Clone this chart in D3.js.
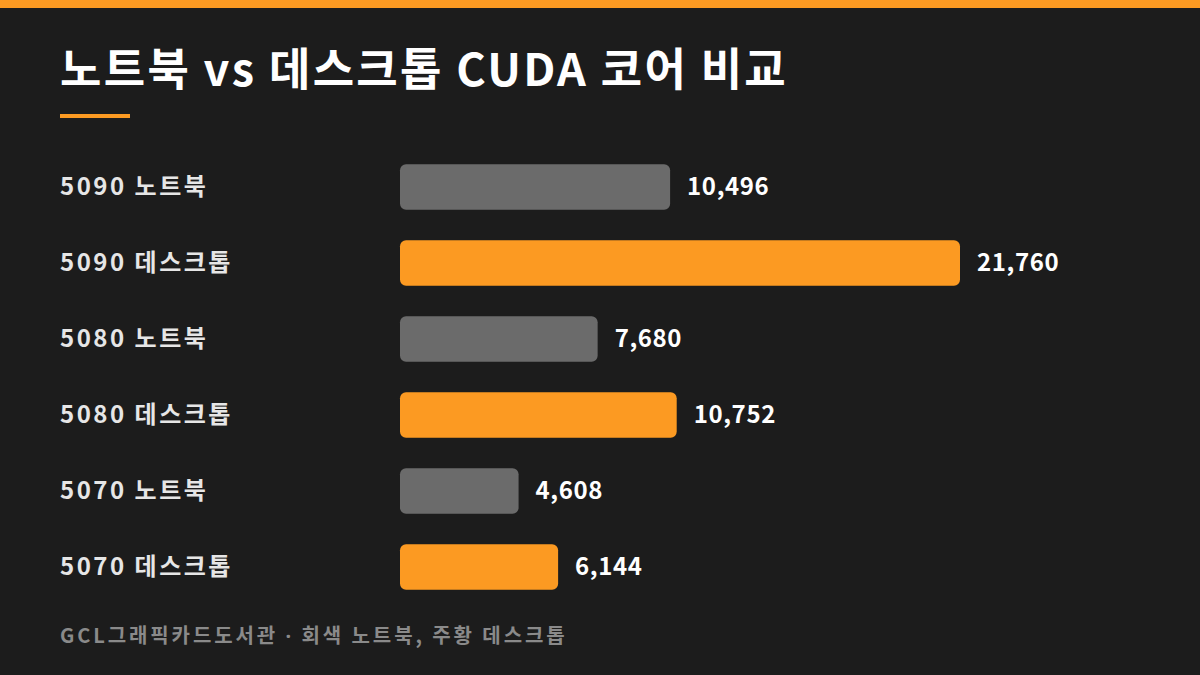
<!DOCTYPE html>
<html>
<head>
<meta charset="utf-8">
<script src="https://cdn.jsdelivr.net/npm/d3@7"></script>
<style>
  html, body { margin: 0; padding: 0; background: #1c1c1c; }
  svg { display: block; }
  text { font-family: "Noto Sans CJK KR", "Noto Sans", sans-serif; }
</style>
</head>
<body>
<svg id="chart"></svg>
<script>
const labels = ['5090 노트북', '5090 데스크톱', '5080 노트북', '5080 데스크톱', '5070 노트북', '5070 데스크톱'];
const cores = [10496, 21760, 7680, 10752, 4608, 6144];
const kinds = ['laptop', 'desktop', 'laptop', 'desktop', 'laptop', 'desktop'];

const width = 1200, height = 675;
const colors = { laptop: '#6b6b6b', desktop: '#fc9a22' };

const svg = d3.select('#chart')
  .attr('width', width)
  .attr('height', height);

svg.append('rect')
  .attr('width', width).attr('height', height)
  .attr('fill', '#1c1c1c');

// top accent
svg.append('rect')
  .attr('width', width).attr('height', 8)
  .attr('fill', '#fc9a22');

svg.append('text')
  .attr('x', 60).attr('y', 86)
  .attr('fill', '#ffffff')
  .attr('font-size', 45)
  .attr('font-weight', 700)
  .attr('letter-spacing', 2.3)
  .text('노트북 vs 데스크톱 CUDA 코어 비교');

svg.append('rect')
  .attr('x', 60).attr('y', 114)
  .attr('width', 70).attr('height', 4)
  .attr('fill', '#fc9a22');

const data = labels.map((d, i) => ({ label: d, value: cores[i], kind: kinds[i] }));

const x = d3.scaleLinear()
  .domain([0, d3.max(cores)])
  .range([400, 960]);

const y = d3.scaleBand()
  .domain(labels)
  .range([149, 605])
  .paddingInner(0.4)
  .paddingOuter(0.2);

const rows = svg.selectAll('g.row')
  .data(data)
  .enter().append('g')
  .attr('class', 'row');

rows.append('text')
  .attr('x', 60)
  .attr('y', d => y(d.label) + y.bandwidth() / 2)
  .attr('dy', '0.35em')
  .attr('fill', '#e6e6e6')
  .attr('font-size', 24)
  .attr('font-weight', 700)
  .attr('letter-spacing', 2.5)
  .text(d => d.label);

rows.append('rect')
  .attr('x', x(0))
  .attr('y', d => y(d.label))
  .attr('width', d => x(d.value) - x(0))
  .attr('height', y.bandwidth())
  .attr('rx', 6)
  .attr('fill', d => colors[d.kind]);

rows.append('text')
  .attr('x', d => x(d.value) + 17)
  .attr('y', d => y(d.label) + y.bandwidth() / 2)
  .attr('dy', '0.35em')
  .attr('fill', '#ffffff')
  .attr('font-size', 24)
  .attr('font-weight', 700)
  .attr('letter-spacing', 0.6)
  .text(d => d3.format(',')(d.value));

const foot = svg.append('text')
  .attr('x', 60).attr('y', 643)
  .attr('fill', '#8a8a8a')
  .attr('font-size', 20)
  .attr('font-weight', 700)
  .attr('letter-spacing', 2.9);
foot.append('tspan').text('GCL그래픽카드도서관 ');
foot.append('tspan').style('font-family', '"Noto Sans", sans-serif').text('·');
foot.append('tspan').text(' 회색 노트북, 주황 데스크톱');
</script>
</body>
</html>
